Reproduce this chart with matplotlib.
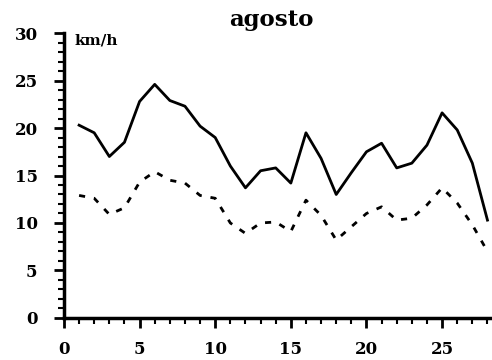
import matplotlib.pyplot as plt
from matplotlib.ticker import MultipleLocator

days = list(range(1, 29))
# velocità massima e media del vento (km/h)
vmax = [20.3, 19.5, 17.0, 18.5, 22.8, 24.6, 22.9, 22.3, 20.2, 19.0,
        16.0, 13.7, 15.5, 15.8, 14.2, 19.5, 16.8, 13.0, 15.3, 17.5,
        18.4, 15.8, 16.3, 18.2, 21.6, 19.8, 16.3, 10.3]
vmed = [12.9, 12.6, 10.9, 11.6, 14.3, 15.4, 14.5, 14.2, 12.9, 12.6,
        10.0, 8.9, 10.0, 10.1, 9.1, 12.4, 10.8, 8.2, 9.6, 11.0,
        11.7, 10.3, 10.5, 11.9, 13.7, 12.1, 9.8, 7.0]

plt.rc('font', family='DejaVu Serif', weight='bold')
fig = plt.figure(figsize=(4.92, 3.6), dpi=100)
ax = fig.add_axes([0.130, 0.117, 0.870, 0.791])

lw = 2
ax.plot(days, vmax, color='black', linestyle='-', linewidth=lw)
ax.plot(days, vmed, color='black', linestyle=(0, (2.2, 3.2)), linewidth=lw)

ax.set_xlim(0, 28.3)
ax.set_ylim(0, 30)
ax.xaxis.set_major_locator(MultipleLocator(5))
ax.xaxis.set_minor_locator(MultipleLocator(1))
ax.yaxis.set_major_locator(MultipleLocator(5))
ax.yaxis.set_minor_locator(MultipleLocator(1))
ax.tick_params(which='major', direction='out', length=7, width=2, labelsize=12)
ax.tick_params(which='minor', direction='out', length=4, width=1.5)
ax.tick_params(axis='x', pad=10)
ax.tick_params(axis='y', pad=12)
for s in ['top', 'right']:
    ax.spines[s].set_visible(False)
for s in ['left', 'bottom']:
    ax.spines[s].set_linewidth(2.5)

ax.text(0.7, 29.2, 'km/h', fontsize=11, fontweight='bold', va='center', ha='left')
fig.text(0.551, 0.944, 'agosto', fontsize=16.5, fontweight='bold', ha='center', va='center')

plt.savefig('out.png', dpi=100)
